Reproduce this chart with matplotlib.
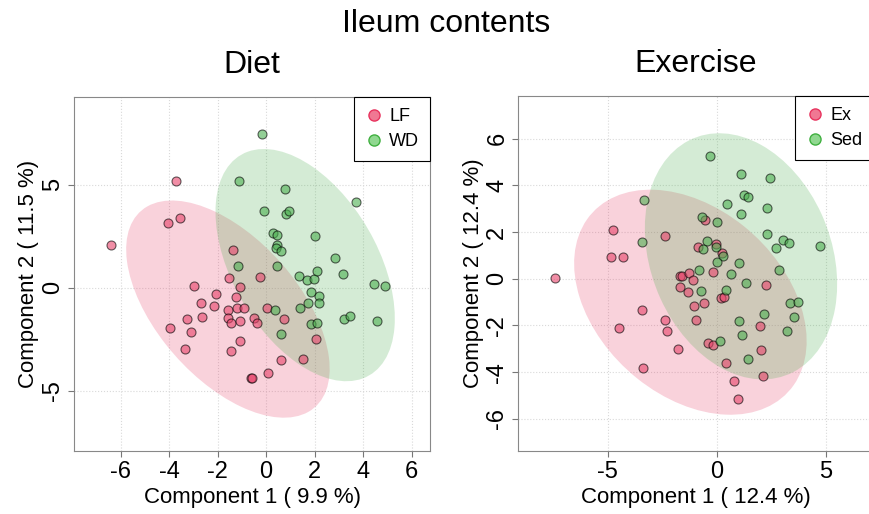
import numpy as np
import matplotlib
matplotlib.use("Agg")
import matplotlib.pyplot as plt
from matplotlib.patches import Ellipse
from matplotlib.lines import Line2D

plt.rcParams['font.family'] = ['Liberation Sans', 'DejaVu Sans']

# Diet panel : scores on components 1 and 2
lf_x = [-6.39, -3.71, -4.06, -3.55, -1.38, -1.53, -0.25, -1.06, -2.96, -2.05,
        -1.23, -2.67, -2.13, -1.56, -1.20, -0.90, 0.04, -3.26, -2.64, -1.58,
        -1.45, -1.09, -0.51, -0.36, 0.76, -3.97, -3.11, -1.09, -3.35, -1.46,
        2.04, 0.62, 1.53, 0.10, -0.62, -0.60]
lf_y = [2.09, 5.18, 3.14, 3.37, 1.84, 0.49, 0.53, 0.03, 0.10, -0.31,
        -0.44, -0.76, -0.87, -1.07, -1.00, -1.00, -1.00, -1.54, -1.42, -1.49,
        -1.72, -1.59, -1.46, -1.73, -1.52, -1.97, -2.17, -2.59, -2.95, -3.06,
        -2.48, -3.53, -3.46, -4.13, -4.40, -4.38]
wd_x = [-0.18, -1.12, 0.80, 3.72, -0.10, 0.83, 0.96, 0.29, 0.45, 0.45,
        0.43, 0.63, 2.01, 2.85, -1.17, 0.45, 1.34, 1.67, 1.96, 2.08,
        3.18, 4.44, 4.92, 1.86, 2.19, 2.18, 1.71, 1.40, 0.36, 3.22,
        3.46, 4.57, 1.86, 2.12, 0.61]
wd_y = [7.49, 5.21, 4.79, 4.17, 3.72, 3.59, 3.74, 2.67, 2.56, 2.07,
        1.94, 1.78, 2.51, 1.46, 1.05, 1.08, 0.57, 0.37, 0.42, 0.84,
        0.66, 0.18, 0.11, -0.21, -0.39, -0.73, -0.76, -0.97, -1.10, -1.50,
        -1.39, -1.63, -1.76, -1.72, -2.25]

# Exercise panel
ex_x = [-7.40, -4.77, -4.85, -4.28, -2.39, -0.55, -0.84, -0.03, 0.23, -0.15,
        -1.68, -1.61, -1.25, -1.07, -1.68, -1.33, -1.04, -0.58, 0.18, 0.34,
        2.28, -3.44, -2.39, -0.93, -4.46, -2.26, -1.79, -0.41, -0.15, 2.00,
        -3.39, 0.43, 2.05, 2.11, 0.78, 0.96]
ex_y = [0.03, 2.09, 0.95, 0.93, 1.84, 2.51, 1.35, 1.47, 1.10, 0.27,
        0.10, 0.10, 0.23, -0.07, -0.34, -0.57, -1.18, -1.05, -0.84, -0.78,
        -0.26, -1.32, -1.78, -1.75, -2.11, -2.22, -3.01, -2.76, -2.85, -2.04,
        -3.83, -3.59, -3.05, -4.16, -4.39, -5.14]
sed_x = [-0.32, 1.13, 2.45, -3.33, 1.27, 1.42, 0.47, 1.13, 2.31, -0.67,
         0.03, 2.31, -3.41, -0.46, -0.61, -0.02, 0.28, 3.04, 3.30, 2.72,
         4.74, 1.01, 0.02, 0.66, -0.80, 2.84, 1.36, -0.72, 0.44, 3.38,
         3.75, 2.16, 3.56, 1.01, 3.24, 1.16, 0.15, 1.42]
sed_y = [5.24, 4.50, 4.32, 3.36, 3.58, 3.49, 3.18, 2.79, 3.03, 2.66,
         2.41, 1.92, 1.57, 1.62, 1.27, 1.35, 0.98, 1.64, 1.51, 1.30,
         1.42, 0.66, 0.70, 0.21, 0.36, 0.37, -0.20, -0.53, -0.48, -1.04,
         -1.00, -1.50, -1.62, -1.81, -2.24, -2.42, -2.68, -3.43]

PINK = '#E8436B'
GREEN = '#4CAF50'


def conf_ellipse(ax, x, y, color, level_t=2.4477):
    # ellipse de confiance à 95 % à partir de la covariance
    pts = np.column_stack([x, y])
    c = pts.mean(axis=0)
    vals, vecs = np.linalg.eigh(np.cov(pts.T))
    order = vals.argsort()[::-1]
    vals, vecs = vals[order], vecs[:, order]
    ang = np.degrees(np.arctan2(vecs[1, 0], vecs[0, 0]))
    w, h = 2 * level_t * np.sqrt(vals)
    ax.add_patch(Ellipse(c, w, h, angle=ang, facecolor=color, alpha=0.24,
                         edgecolor='none', zorder=1))


def panel(ax, g1, g2, names, title, xlab, ylab, xt, yt, xlim, ylim):
    conf_ellipse(ax, g1[0], g1[1], PINK)
    conf_ellipse(ax, g2[0], g2[1], GREEN)
    ax.scatter(g1[0], g1[1], s=42, facecolor=PINK, edgecolor='black',
               alpha=0.6, linewidth=0.8, zorder=3)
    ax.scatter(g2[0], g2[1], s=42, facecolor=GREEN, edgecolor='black',
               alpha=0.6, linewidth=0.8, zorder=3)
    ax.set_xlim(*xlim)
    ax.set_ylim(*ylim)
    ax.set_xticks(xt)
    ax.set_yticks(yt)
    ax.set_xticklabels([str(v) for v in xt])
    ax.set_yticklabels([str(v) for v in yt], rotation=90, va='center')
    ax.tick_params(labelsize=17, length=4, color='#777777', pad=3)
    ax.grid(True, linestyle=':', color='#d9d9d9', linewidth=0.8)
    ax.set_axisbelow(True)
    for s in ax.spines.values():
        s.set_color('#888888')
    ax.set_xlabel(xlab, fontsize=16, labelpad=3)
    ax.set_ylabel(ylab, fontsize=16, labelpad=2)
    ax.set_title(title, fontsize=23, pad=17)
    handles = [Line2D([], [], marker='o', linestyle='none', markersize=8,
                      markerfacecolor='#F07893', markeredgecolor='#E8335E'),
               Line2D([], [], marker='o', linestyle='none', markersize=8,
                      markerfacecolor='#90D890', markeredgecolor='#40B040')]
    leg = ax.legend(handles, names, loc='upper right', fontsize=13,
                    fancybox=False, framealpha=1, edgecolor='black',
                    borderaxespad=0, handletextpad=0.35, handlelength=1.0,
                    borderpad=0.6, labelspacing=0.45)
    leg.get_frame().set_linewidth(0.8)


fig = plt.figure(figsize=(8.69, 5.14), dpi=100)
ax1 = fig.add_axes([74 / 869, 63 / 514, 356 / 869, 354 / 514])
ax2 = fig.add_axes([518 / 869, 63 / 514, 355 / 869, 355 / 514])

panel(ax1, (lf_x, lf_y), (wd_x, wd_y), ['LF', 'WD'], 'Diet',
      'Component 1 ( 9.9 %)', 'Component 2 ( 11.5 %)',
      [-6, -4, -2, 0, 2, 4, 6], [-5, 0, 5], (-7.92, 6.76), (-7.93, 9.27))
panel(ax2, (ex_x, ex_y), (sed_x, sed_y), ['Ex', 'Sed'], 'Exercise',
      'Component 1 ( 12.4 %)', 'Component 2 ( 12.4 %)',
      [-5, 0, 5], [-6, -4, -2, 0, 2, 4, 6], (-9.11, 7.17), (-7.37, 7.82))

fig.suptitle('Ileum contents', fontsize=23, x=446 / 869, y=1 - 32 / 514,
             va='baseline')

plt.savefig('out.png', dpi=100)
